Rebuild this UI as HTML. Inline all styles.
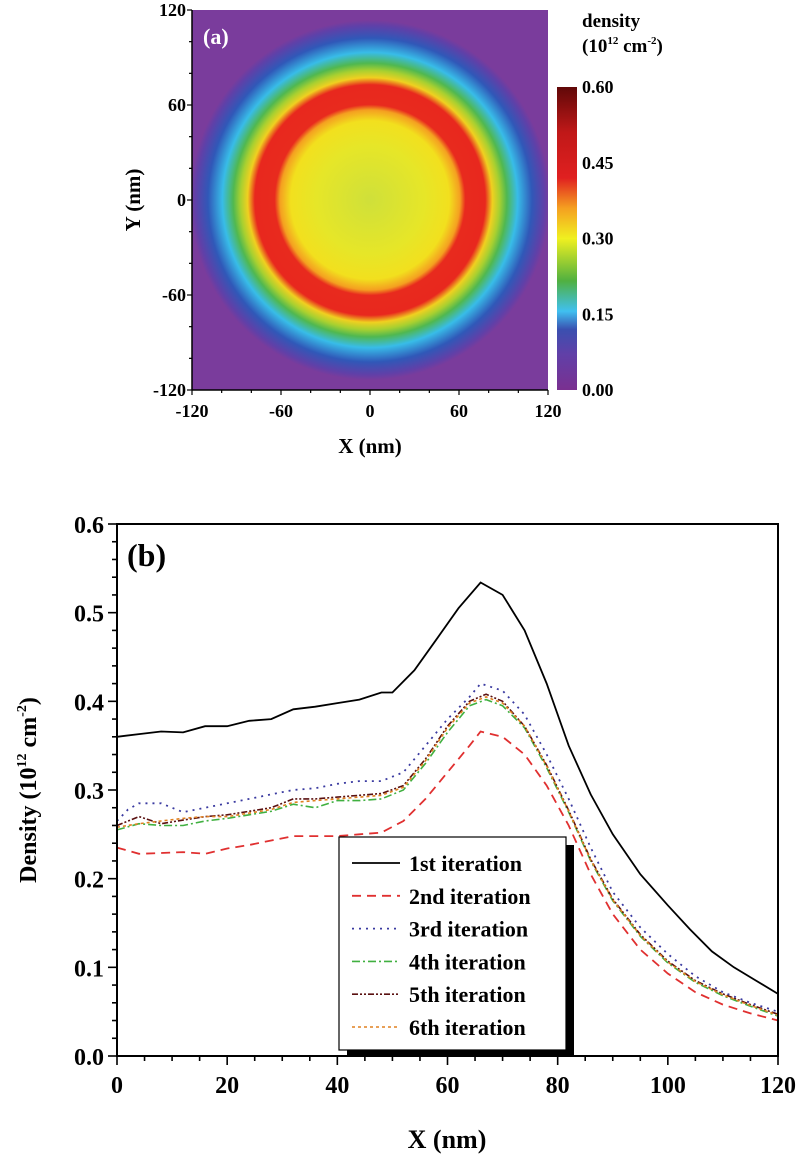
<!DOCTYPE html>
<html><head><meta charset="utf-8"><style>
html,body{margin:0;padding:0;background:#fff}
svg{display:block;font-family:"Liberation Serif",serif;font-weight:bold}
</style></head><body>
<svg id="fig" width="800" height="1155" viewBox="0 0 800 1155" xmlns="http://www.w3.org/2000/svg">
<defs>
<radialGradient id="ring" cx="370" cy="200" r="180" gradientUnits="userSpaceOnUse">
<stop offset="0" stop-color="#cfe03a"/><stop offset="0.3" stop-color="#e6e628"/>
<stop offset="0.44" stop-color="#f2e01e"/><stop offset="0.5" stop-color="#f4a020"/>
<stop offset="0.53" stop-color="#e82a1e"/><stop offset="0.64" stop-color="#e8281e"/>
<stop offset="0.68" stop-color="#f0d020"/><stop offset="0.72" stop-color="#a8d030"/>
<stop offset="0.76" stop-color="#50b850"/><stop offset="0.82" stop-color="#38bce8"/>
<stop offset="0.9" stop-color="#3058b8"/><stop offset="0.97" stop-color="#6040a8"/>
<stop offset="1" stop-color="#7a3c9c"/>
</radialGradient>
<linearGradient id="cbar" x1="0" y1="1" x2="0" y2="0">
<stop offset="0" stop-color="#7a3090"/><stop offset="0.12" stop-color="#6040a8"/>
<stop offset="0.2" stop-color="#3a50b0"/><stop offset="0.26" stop-color="#40c0f0"/>
<stop offset="0.36" stop-color="#50b040"/><stop offset="0.5" stop-color="#f0f020"/>
<stop offset="0.6" stop-color="#f5a020"/><stop offset="0.7" stop-color="#e02020"/>
<stop offset="0.85" stop-color="#c01818"/><stop offset="1" stop-color="#600808"/>
</linearGradient>
</defs>

<g>
<rect x="192" y="10" width="356" height="380" fill="#7b3f9e"/>
<rect x="192" y="10" width="356" height="380" fill="url(#ring)"/>
<text x="203" y="44" fill="#fff" font-size="22">(a)</text>
<rect x="557" y="87" width="20" height="303" fill="url(#cbar)"/>
<text x="582" y="27" font-size="19">density</text>
<text x="582" y="52" font-size="19">(10<tspan font-size="11" dy="-8">12</tspan><tspan dy="8"> cm</tspan><tspan font-size="11" dy="-8">-2</tspan><tspan dy="8">)</tspan></text>
<g id="cbticks" font-size="18"></g>
<g id="ax-a" font-size="18"></g>
<text x="370" y="453" text-anchor="middle" font-size="21">X (nm)</text>
<text transform="translate(140,200) rotate(-90)" text-anchor="middle" font-size="21">Y (nm)</text>
</g>

<g id="chart-b"></g>
<text x="127" y="566" font-size="32">(b)</text>
<text x="447" y="1148" text-anchor="middle" font-size="26">X (nm)</text>
<text transform="translate(36,790) rotate(-90)" text-anchor="middle" font-size="24">Density (10<tspan font-size="14" dy="-10">12</tspan><tspan dy="10"> cm</tspan><tspan font-size="14" dy="-10">-2</tspan><tspan dy="10">)</tspan></text>
</svg>
<script>
const NS="http://www.w3.org/2000/svg";
const xs1=[0,4,8,12,16,20,24,28,32,36,40,44,48,50,54,58,62,66,70,74,78,82,86,90,95,100,104,108,112,116,120];
const s1=[0.36,0.363,0.366,0.365,0.372,0.372,0.378,0.38,0.391,0.394,0.398,0.402,0.41,0.41,0.435,0.47,0.505,0.534,0.52,0.48,0.42,0.35,0.295,0.25,0.205,0.17,0.143,0.118,0.1,0.085,0.07];
const xs2=[0,4,8,12,16,20,24,28,32,36,40,44,48,52,56,60,64,66,70,74,78,82,86,90,95,100,105,110,115,120];
const s2=[0.235,0.228,0.229,0.23,0.228,0.234,0.238,0.243,0.248,0.248,0.248,0.25,0.252,0.265,0.29,0.32,0.35,0.366,0.36,0.34,0.305,0.26,0.205,0.16,0.12,0.093,0.072,0.058,0.048,0.04];
const xs3=[0,2,4,8,12,16,20,24,28,32,36,40,44,48,52,56,60,64,66,70,74,78,82,86,90,95,100,105,110,115,120];
const s3=[0.265,0.278,0.285,0.285,0.275,0.28,0.285,0.29,0.295,0.3,0.302,0.307,0.31,0.31,0.32,0.35,0.38,0.405,0.42,0.412,0.385,0.34,0.29,0.235,0.185,0.145,0.115,0.09,0.072,0.06,0.05];
const xs4=[0,4,8,12,16,20,24,28,32,36,40,44,48,52,56,60,64,67,70,74,78,82,86,90,95,100,105,110,115,120];
const s4=[0.255,0.262,0.26,0.26,0.265,0.268,0.272,0.276,0.284,0.28,0.288,0.288,0.29,0.3,0.33,0.365,0.395,0.402,0.395,0.37,0.325,0.275,0.22,0.175,0.135,0.105,0.083,0.068,0.056,0.045];
const s5=[0.26,0.27,0.262,0.266,0.27,0.272,0.276,0.28,0.29,0.29,0.292,0.294,0.296,0.305,0.335,0.372,0.4,0.408,0.4,0.372,0.328,0.277,0.222,0.177,0.137,0.107,0.085,0.07,0.058,0.047];
const s6=[0.258,0.262,0.265,0.268,0.27,0.27,0.274,0.278,0.286,0.288,0.29,0.292,0.294,0.303,0.333,0.37,0.398,0.405,0.398,0.372,0.327,0.276,0.221,0.176,0.136,0.106,0.084,0.069,0.057,0.046];
const legendLabels=["1st iteration","2nd iteration","3rd iteration","4th iteration","5th iteration","6th iteration"];
const xTicksB=[0,20,40,60,80,100,120];
const yTicksB=[0,0.1,0.2,0.3,0.4,0.5,0.6];
const ticksA=[-120,-60,0,60,120];
const cbTicks=[0,0.15,0.3,0.45,0.6];

function el(t,a,p){const e=document.createElementNS(NS,t);for(const k in a)e.setAttribute(k,a[k]);p.appendChild(e);return e;}
const axA=document.getElementById('ax-a');
const ax=v=>192+(v+120)/240*356, ay=v=>390-(v+120)/240*380;
el('line',{x1:192,y1:390,x2:548,y2:390,stroke:'#000','stroke-width':1.5},axA);
el('line',{x1:192,y1:10,x2:192,y2:390,stroke:'#000','stroke-width':1.5},axA);
for(let v=-120;v<=120;v+=20){
 const maj=v%60===0;
 el('line',{x1:ax(v),y1:390,x2:ax(v),y2:390+(maj?5:3),stroke:'#000','stroke-width':1.2},axA);
 el('line',{x1:192,y1:ay(v),x2:192-(maj?5:3),y2:ay(v),stroke:'#000','stroke-width':1.2},axA);
}
ticksA.forEach(v=>{
 const t=el('text',{x:ax(v),y:417,'text-anchor':'middle'},axA);t.textContent=v;
 
 
 const u=el('text',{x:186,y:ay(v)+6,'text-anchor':'end'},axA);u.textContent=v;
 
 
});
const cb=document.getElementById('cbticks');
cbTicks.forEach(v=>{
 const t=el('text',{x:582,y:390-v/0.6*303+6},cb);t.textContent=v.toFixed(2);
 
 
});
const g=document.getElementById('chart-b');
const X0=117,X1=778,Y0=1056,Y1=524;
const sx=v=>X0+v/120*(X1-X0), sy=v=>Y0-v/0.6*(Y0-Y1);
const series=[
 {x:xs1,y:s1,c:'#000',d:'',w:1.8},
 {x:xs2,y:s2,c:'#e03030',d:'9,6',w:1.8},
 {x:xs3,y:s3,c:'#3a3aa0',d:'2,5',w:1.8},
 {x:xs4,y:s4,c:'#40b040',d:'8,3,2,3',w:1.6},
 {x:xs4,y:s5,c:'#5a1010',d:'6,2,2,2,2,2',w:1.6},
 {x:xs4,y:s6,c:'#e08020',d:'3,3',w:1.6}];
series.forEach((s,i)=>{
 const p=el('path',{d:s.x.map((x,j)=>(j?'L':'M')+sx(x).toFixed(1)+','+sy(s.y[j]).toFixed(1)).join(''),fill:'none',stroke:s.c,'stroke-width':s.w,'stroke-dasharray':s.d},g);
 
 
});
el('rect',{x:X0,y:Y1,width:X1-X0,height:Y0-Y1,fill:'none',stroke:'#000','stroke-width':2},g);
for(let v=0;v<=120;v+=5){const maj=v%20===0;
 el('line',{x1:sx(v),y1:Y0,x2:sx(v),y2:Y0+(maj?9:5),stroke:'#000','stroke-width':1.6},g);}
for(let k=0;k<=30;k++){const v=k*0.02,maj=k%5===0;
 el('line',{x1:X0,y1:sy(v),x2:X0-(maj?9:5),y2:sy(v),stroke:'#000','stroke-width':1.6},g);}
xTicksB.forEach(v=>{const t=el('text',{x:sx(v),y:1093,'text-anchor':'middle','font-size':24},g);t.textContent=v;
 
 });
yTicksB.forEach(v=>{const t=el('text',{x:104,y:sy(v)+9,'text-anchor':'end','font-size':24},g);t.textContent=v.toFixed(1);
 
 });
const lg=el('g',{},g);


el('rect',{x:347,y:845,width:227,height:212,fill:'#000'},lg);
el('rect',{x:339,y:837,width:227,height:213,fill:'#fff',stroke:'#000','stroke-width':1.2},lg);
legendLabels.forEach((l,i)=>{const y=863+i*32.8,s=series[i];
 el('line',{x1:352,y1:y,x2:400,y2:y,stroke:s.c,'stroke-width':s.w,'stroke-dasharray':s.d},lg);
 const t=el('text',{x:409,y:y+8,'font-size':22},lg);t.textContent=l;
 
 });
</script>
</body></html>
